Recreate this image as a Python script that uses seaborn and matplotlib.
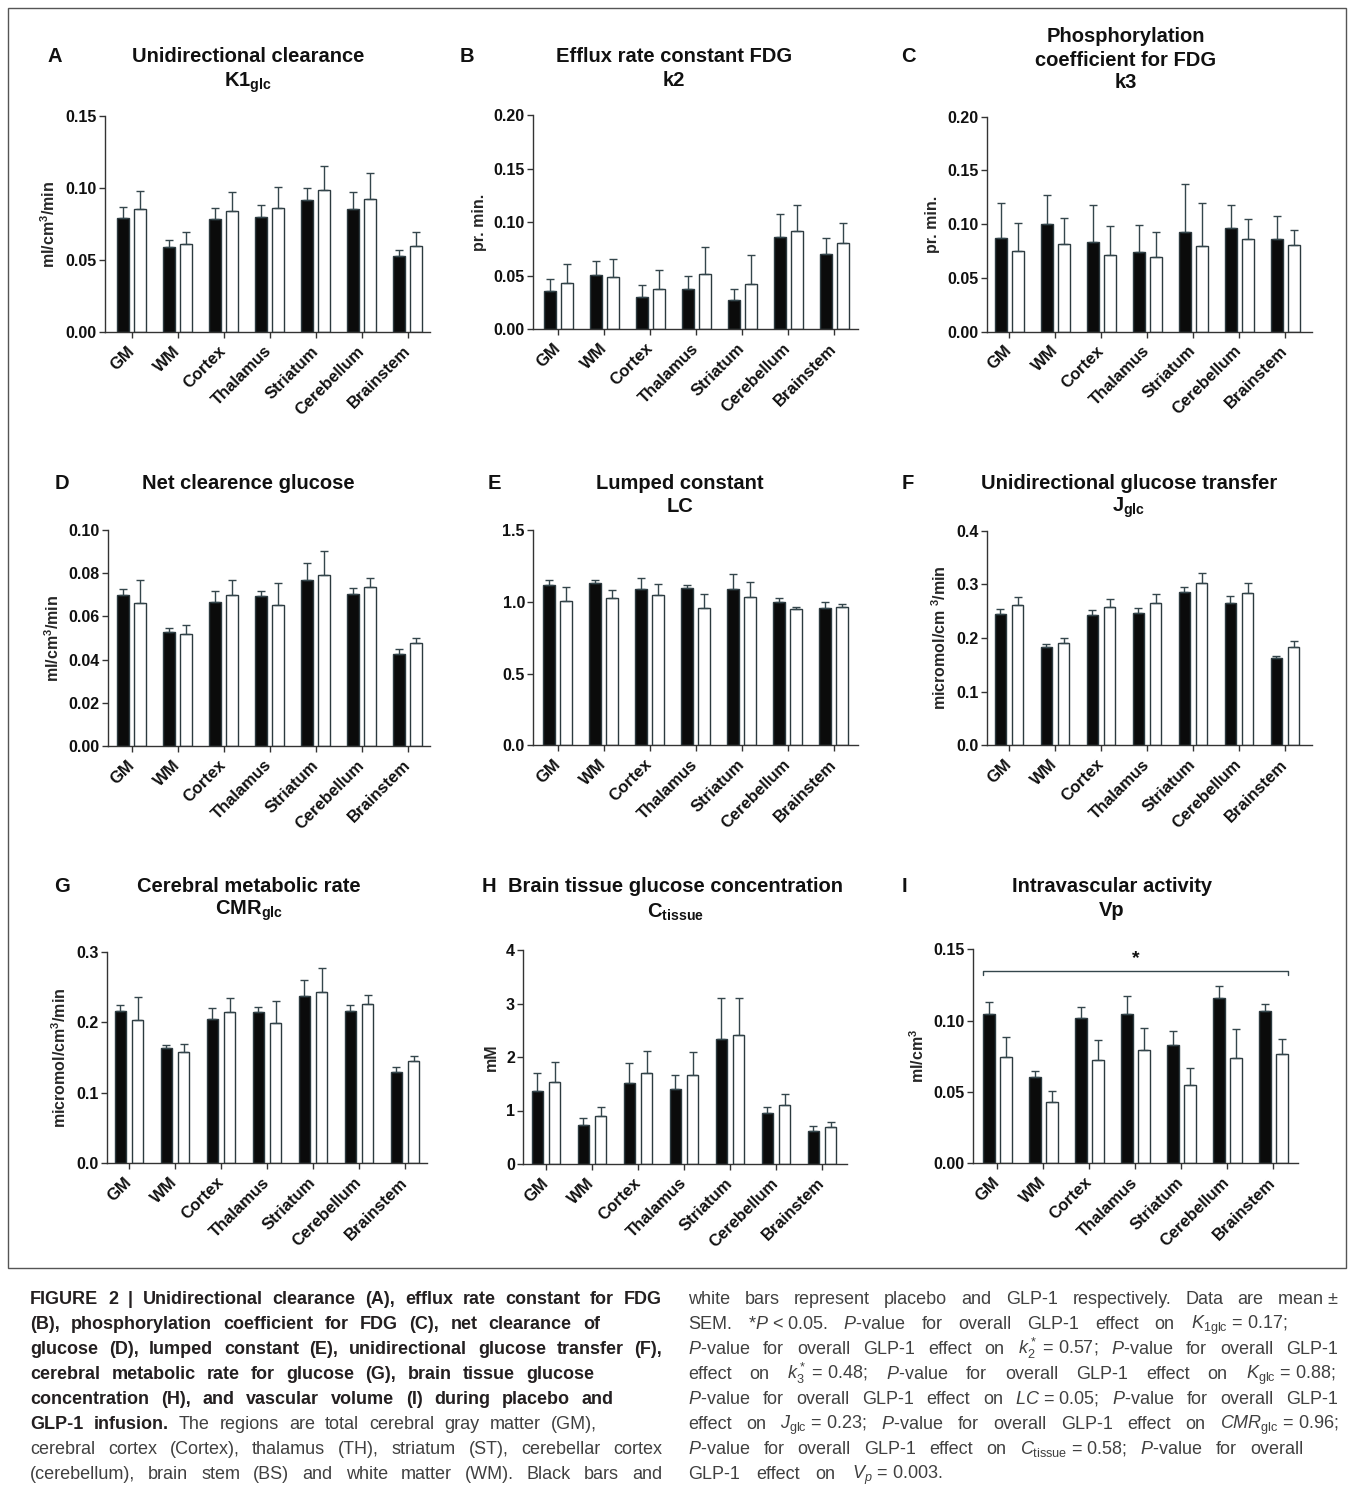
import numpy as np
import pandas as pd
import seaborn as sns
import matplotlib
matplotlib.use('Agg')
import matplotlib.pyplot as plt
from matplotlib.patches import Rectangle

# Regions on the x axis
REGIONS = ['GM', 'WM', 'Cortex', 'Thalamus', 'Striatum', 'Cerebellum', 'Brainstem']

# A: unidirectional clearance K1glc (mean, SEM)
k1_plc = [0.0795, 0.0590, 0.0786, 0.0798, 0.0920, 0.0856, 0.0526]
k1_plc_sem = [0.0070, 0.0050, 0.0074, 0.0081, 0.0080, 0.0114, 0.0044]
k1_glp = [0.0853, 0.0614, 0.0839, 0.0858, 0.0983, 0.0927, 0.0596]
k1_glp_sem = [0.0127, 0.0082, 0.0131, 0.0152, 0.0167, 0.0179, 0.0100]

# B: efflux rate constant k2
k2_plc = [0.0360, 0.0507, 0.0305, 0.0380, 0.0274, 0.0860, 0.0700]
k2_plc_sem = [0.0107, 0.0131, 0.0105, 0.0120, 0.0102, 0.0216, 0.0150]
k2_glp = [0.0432, 0.0490, 0.0380, 0.0516, 0.0423, 0.0914, 0.0810]
k2_glp_sem = [0.0181, 0.0170, 0.0174, 0.0249, 0.0267, 0.0249, 0.0185]

# C: phosphorylation coefficient k3
k3_plc = [0.0868, 0.1005, 0.0834, 0.0738, 0.0924, 0.0967, 0.0862]
k3_plc_sem = [0.0326, 0.0265, 0.0344, 0.0251, 0.0453, 0.0213, 0.0214]
k3_glp = [0.0750, 0.0815, 0.0713, 0.0695, 0.0800, 0.0859, 0.0806]
k3_glp_sem = [0.0260, 0.0239, 0.0273, 0.0235, 0.0397, 0.0189, 0.0144]

# D: net clearance glucose
kg_plc = [0.0700, 0.0528, 0.0668, 0.0694, 0.0769, 0.0702, 0.0426]
kg_plc_sem = [0.0028, 0.0018, 0.0051, 0.0025, 0.0077, 0.0029, 0.0023]
kg_glp = [0.0664, 0.0517, 0.0700, 0.0651, 0.0793, 0.0736, 0.0478]
kg_glp_sem = [0.0106, 0.0042, 0.0070, 0.0102, 0.0111, 0.0043, 0.0024]

# E: lumped constant LC
lc_plc = [1.119, 1.131, 1.089, 1.096, 1.091, 0.996, 0.959]
lc_plc_sem = [0.033, 0.021, 0.077, 0.023, 0.100, 0.033, 0.037]
lc_glp = [1.008, 1.024, 1.045, 0.959, 1.036, 0.947, 0.961]
lc_glp_sem = [0.095, 0.060, 0.076, 0.097, 0.099, 0.019, 0.023]

# F: unidirectional glucose transfer Jglc
jg_plc = [0.2453, 0.1839, 0.2429, 0.2466, 0.2851, 0.2652, 0.1621]
jg_plc_sem = [0.0081, 0.0049, 0.0093, 0.0099, 0.0099, 0.0124, 0.0049]
jg_glp = [0.2615, 0.1900, 0.2584, 0.2646, 0.3019, 0.2845, 0.1826]
jg_glp_sem = [0.0143, 0.0094, 0.0149, 0.0180, 0.0198, 0.0186, 0.0112]

# G: cerebral metabolic rate CMRglc
cmr_plc = [0.2159, 0.1630, 0.2050, 0.2149, 0.2367, 0.2163, 0.1300]
cmr_plc_sem = [0.0080, 0.0047, 0.0156, 0.0066, 0.0231, 0.0085, 0.0060]
cmr_glp = [0.2031, 0.1578, 0.2140, 0.1984, 0.2428, 0.2253, 0.1450]
cmr_glp_sem = [0.0331, 0.0118, 0.0208, 0.0316, 0.0335, 0.0132, 0.0076]

# H: brain tissue glucose concentration Ctissue
ct_plc = [1.371, 0.729, 1.508, 1.396, 2.343, 0.953, 0.623]
ct_plc_sem = [0.324, 0.137, 0.380, 0.274, 0.760, 0.119, 0.093]
ct_glp = [1.539, 0.897, 1.707, 1.657, 2.411, 1.103, 0.698]
ct_glp_sem = [0.361, 0.175, 0.411, 0.436, 0.692, 0.205, 0.081]

# I: intravascular activity Vp
vp_plc = [0.1047, 0.0605, 0.1019, 0.1049, 0.0829, 0.1161, 0.1065]
vp_plc_sem = [0.0084, 0.0045, 0.0079, 0.0124, 0.0099, 0.0082, 0.0054]
vp_glp = [0.0748, 0.0432, 0.0724, 0.0794, 0.0547, 0.0741, 0.0766]
vp_glp_sem = [0.0135, 0.0075, 0.0138, 0.0157, 0.0124, 0.0199, 0.0108]
vp_sig_level = 0.1348

W, H = 1354, 1490
SPINE = '#333333'
ERR = '#34464c'
EDGE = '#2c3a3f'

sns.set_theme(style='ticks')
plt.rcParams['font.family'] = ['Liberation Sans', 'DejaVu Sans']
plt.rcParams['mathtext.fontset'] = 'custom'
plt.rcParams['mathtext.rm'] = 'Liberation Sans'
plt.rcParams['mathtext.it'] = 'Liberation Sans:italic'
plt.rcParams['mathtext.bf'] = 'Liberation Sans:bold'

CAP_FONT = 'Liberation Sans'
CAP_SIZE = 13

fig = plt.figure(figsize=(W / 100, H / 100), dpi=100)


def fx(x):
    return x / W


def fy(y):
    return 1 - y / H


# panel: letter, (letter x,y), title lines [(text, y)], title x, ylabel, ticks, fmt,
# data, geometry (spine x, first tick x, axis end x, top y, bottom y)
panels = [
    dict(letter='A', lxy=(55, 57), tx=248, title=[('Unidirectional clearance', 57), (r'K1$_\mathbf{glc}$', 83)],
         ylabel=r'ml/cm$^\mathbf{3}$/min', ticks=[0, 0.05, 0.10, 0.15], fmt='{:.2f}',
         data=(k1_plc, k1_plc_sem, k1_glp, k1_glp_sem), geo=(105, 131.7, 430, 116, 332)),
    dict(letter='B', lxy=(467, 57), tx=674, title=[('Efflux rate constant FDG', 57), ('k2', 81)],
         ylabel='pr. min.', ticks=[0, 0.05, 0.10, 0.15, 0.20], fmt='{:.2f}',
         data=(k2_plc, k2_plc_sem, k2_glp, k2_glp_sem), geo=(533.3, 558.3, 858.3, 115, 329.3)),
    dict(letter='C', lxy=(908, 56), tx=1126, title=[('Phosphorylation', 37), ('coefficient for FDG', 60), ('k3', 83)],
         ylabel='pr. min.', ticks=[0, 0.05, 0.10, 0.15, 0.20], fmt='{:.2f}',
         data=(k3_plc, k3_plc_sem, k3_glp, k3_glp_sem), geo=(986.7, 1009.3, 1312, 116.7, 331.7)),
    dict(letter='D', lxy=(62, 484), tx=248, title=[('Net clearence glucose', 484)],
         ylabel=r'ml/cm$^\mathbf{3}$/min', ticks=[0, 0.02, 0.04, 0.06, 0.08, 0.10], fmt='{:.2f}',
         data=(kg_plc, kg_plc_sem, kg_glp, kg_glp_sem), geo=(108.3, 131.7, 430, 530, 746)),
    dict(letter='E', lxy=(494, 484), tx=680, title=[('Lumped constant', 484), ('LC', 507)],
         ylabel='', ticks=[0, 0.5, 1.0, 1.5], fmt='{:.1f}',
         data=(lc_plc, lc_plc_sem, lc_glp, lc_glp_sem), geo=(533.3, 557.7, 858.3, 530, 745.3)),
    dict(letter='F', lxy=(908, 484), tx=1129, title=[('Unidirectional glucose transfer', 484), (r'J$_\mathbf{glc}$', 508)],
         ylabel=r'micromol/cm $^\mathbf{3}$/min', ticks=[0, 0.1, 0.2, 0.3, 0.4], fmt='{:.1f}',
         data=(jg_plc, jg_plc_sem, jg_glp, jg_glp_sem), geo=(986.7, 1009, 1312, 530.7, 745.3)),
    dict(letter='G', lxy=(62, 887), tx=249, title=[('Cerebral metabolic rate', 887), (r'CMR$_\mathbf{glc}$', 911)],
         ylabel=r'micromol/cm$^\mathbf{3}$/min', ticks=[0, 0.1, 0.2, 0.3], fmt='{:.1f}',
         data=(cmr_plc, cmr_plc_sem, cmr_glp, cmr_glp_sem), geo=(106.7, 129, 426.7, 951.7, 1163.3)),
    dict(letter='H', lxy=(489, 887), tx=675, title=[('Brain tissue glucose concentration', 887), (r'C$_\mathbf{tissue}$', 912)],
         ylabel='mM', ticks=[0, 1, 2, 3, 4], fmt='{:.0f}',
         data=(ct_plc, ct_plc_sem, ct_glp, ct_glp_sem), geo=(523.3, 546, 846.7, 950, 1164)),
    dict(letter='I', lxy=(904, 887), tx=1112, title=[('Intravascular activity', 887), ('Vp', 911)],
         ylabel=r'ml/cm$^\mathbf{3}$', ticks=[0, 0.05, 0.10, 0.15], fmt='{:.2f}',
         data=(vp_plc, vp_plc_sem, vp_glp, vp_glp_sem), geo=(973.3, 997.3, 1298.3, 949.3, 1163.3)),
]

SPACING = 46.0
for p in panels:
    sx, ft, ex, ty, by = p['geo']
    ax = fig.add_axes([fx(sx), fy(by), (ex - sx) / W, (by - ty) / H])
    plc, plc_sem, glp, glp_sem = p['data']
    df = pd.DataFrame({'Region': REGIONS * 2,
                       'Condition': ['Placebo'] * 7 + ['GLP-1'] * 7,
                       'Value': list(plc) + list(glp)})
    sns.barplot(data=df, x='Region', y='Value', hue='Condition', hue_order=['Placebo', 'GLP-1'],
                palette={'Placebo': '#0b0b0b', 'GLP-1': 'white'}, width=0.74, gap=0.31,
                errorbar=None, edgecolor=EDGE, linewidth=1.0, legend=False, ax=ax)
    for cont, m, s in zip(ax.containers, [plc, glp], [plc_sem, glp_sem]):
        xs = [b.get_x() + b.get_width() / 2 for b in cont]
        ax.errorbar(xs, m, yerr=[np.zeros(len(m)), s], fmt='none', ecolor=ERR,
                    elinewidth=1.0, capsize=2.6, capthick=1.0, zorder=3)
    ax.set_xlim(-(ft - sx) / SPACING, (ex - ft) / SPACING)
    ax.set_ylim(0, p['ticks'][-1])
    ax.set_yticks(p['ticks'])
    ax.set_yticklabels([p['fmt'].format(v) for v in p['ticks']], fontweight='bold', fontsize=11.5)
    ax.set_xticks(range(len(REGIONS)))
    ax.set_xticklabels(REGIONS, rotation=45, ha='right', va='center', rotation_mode='anchor',
                       fontweight='bold', fontsize=12)
    ax.set_xlabel('')
    ax.set_ylabel(p['ylabel'], fontweight='bold', fontsize=11.5, labelpad=5)
    for side in ['top', 'right']:
        ax.spines[side].set_visible(False)
    for side in ['left', 'bottom']:
        ax.spines[side].set_color(SPINE)
        ax.spines[side].set_linewidth(1.0)
    ax.tick_params(axis='both', direction='out', length=4, width=1.0, color=SPINE, labelcolor='#111111')
    ax.tick_params(axis='x', pad=8)
    ax.tick_params(axis='y', pad=2)
    ax.set_facecolor('white')

    if p['letter'] == 'I':
        left = ax.containers[0][0].get_x()
        right = ax.containers[1][-1].get_x() + ax.containers[1][-1].get_width()
        drop = 0.003
        ax.plot([left, left, right, right], [vp_sig_level - drop, vp_sig_level, vp_sig_level, vp_sig_level - drop],
                color=ERR, lw=1.0, clip_on=False)
        ax.text((left + right) / 2, vp_sig_level + 0.003, '*', ha='center', va='bottom',
                fontsize=14, fontweight='bold', color='#111111')

    fig.text(fx(p['lxy'][0]), fy(p['lxy'][1]), p['letter'], ha='center', va='center',
             fontsize=14.5, fontweight='bold', color='#111111')
    for line, y in p['title']:
        fig.text(fx(p['tx']), fy(y), line, ha='center', va='center',
                 fontsize=14.5, fontweight='bold', color='#111111')

# frame around the graphics
fig.add_artist(Rectangle((fx(8), fy(1268)), (1346 - 8) / W, (1268 - 8) / H,
                         transform=fig.transFigure, fill=False, edgecolor='#555555', lw=1.0))

# caption, two justified columns
renderer = fig.canvas.get_renderer()
BOLD_COL = '#231f20'
REG_COL = '#404040'
NB = '\u00a0'


def put_line(segments, x0, x1, ybase):
    words = []
    for text, bold in segments:
        for w in text.split(' '):
            if w:
                words.append((w, bold))
    arts, total = [], 0.0
    for w, bold in words:
        t = fig.text(0, fy(ybase), w, fontsize=CAP_SIZE, family=[CAP_FONT, 'DejaVu Sans'],
                     fontweight='bold' if bold else 'normal', color=BOLD_COL if bold else REG_COL,
                     ha='left', va='baseline')
        wpx = t.get_window_extent(renderer).width
        arts.append((t, wpx))
        total += wpx
    natural = CAP_SIZE * 100 / 72 * 0.278
    gap = natural
    if x1 is not None and len(arts) > 1:
        gap = max((x1 - x0 - total) / (len(arts) - 1), natural * 0.6)
    x = x0
    for t, wpx in arts:
        t.set_x(fx(x))
        x += wpx + gap


left_lines = [
    ([('FIGURE 2 | Unidirectional clearance (A), efflux rate constant for FDG', True)], 662),
    ([('(B), phosphorylation coefficient for FDG (C), net clearance of', True)], 600),
    ([('glucose (D), lumped constant (E), unidirectional glucose transfer (F),', True)], 662),
    ([('cerebral metabolic rate for glucose (G), brain tissue glucose', True)], 594),
    ([('concentration (H), and vascular volume (I) during placebo and', True)], 614),
    ([('GLP-1 infusion.', True), ('The regions are total cerebral gray matter (GM),', False)], 597),
    ([('cerebral cortex (Cortex), thalamus (TH), striatum (ST), cerebellar cortex', False)], 662),
    ([('(cerebellum), brain stem (BS) and white matter (WM). Black bars and', False)], 662),
]
right_lines = [
    ('white bars represent placebo and GLP-1 respectively. Data are mean' + NB + '\u00b1', 1338),
    (r'SEM. *$P$' + NB + '<' + NB + r'0.05. $P$-value for overall GLP-1 effect on $K_{\mathrm{1glc}}$' + NB + '=' + NB + '0.17;', 1287),
    (r'$P$-value for overall GLP-1 effect on $k_2^*$' + NB + '=' + NB + r'0.57; $P$-value for overall GLP-1', 1338),
    (r'effect on $k_3^*$' + NB + '=' + NB + r'0.48; $P$-value for overall GLP-1 effect on $K_{\mathrm{glc}}$' + NB + '=' + NB + '0.88;', 1335),
    (r'$P$-value for overall GLP-1 effect on $LC$' + NB + '=' + NB + r'0.05; $P$-value for overall GLP-1', 1338),
    (r'effect on $J_{\mathrm{glc}}$' + NB + '=' + NB + r'0.23; $P$-value for overall GLP-1 effect on $CMR_{\mathrm{glc}}$' + NB + '=' + NB + '0.96;', 1338),
    (r'$P$-value for overall GLP-1 effect on $C_{\mathrm{tissue}}$' + NB + '=' + NB + r'0.58; $P$-value for overall', 1303),
    (r'GLP-1 effect on $V_p$' + NB + '=' + NB + '0.003.', 942),
]

for i, (segs, x1) in enumerate(left_lines):
    put_line(segs, 30, x1, 1304 + 25 * i)
for i, (text, x1) in enumerate(right_lines):
    put_line([(text, False)], 688, x1, 1304 + 25 * i)

fig.savefig('out.png', dpi=100, facecolor='white')
